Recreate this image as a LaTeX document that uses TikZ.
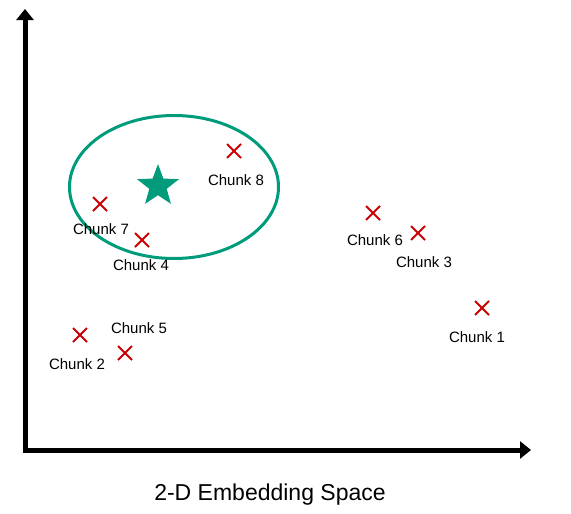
\documentclass[tikz,border=0pt]{standalone}
\usepackage{fontspec}
\setmainfont{Liberation Sans}
\usepackage{tikz}
\usetikzlibrary{positioning,arrows.meta,shapes.geometric,shapes.misc}
\definecolor{teal}{RGB}{0,155,122}
\definecolor{mark}{RGB}{204,0,0}

\begin{document}
\begin{tikzpicture}[
    x=1pt, y=-1pt,
    node distance=16pt,
    axis/.style={line width=5pt, -{Triangle[length=11pt,width=17pt]}},
    chunk/.style={cross out, draw=mark, line width=2pt, minimum size=12pt, inner sep=0pt},
    chunklabel/.style={font=\fontsize{15}{17}\selectfont, inner sep=0pt},
    query/.style={star, star points=5, star point ratio=2.4, fill=teal, minimum size=44pt, inner sep=0pt},
    title/.style={font=\fontsize{23}{27}\selectfont}
]
\useasboundingbox (0,0) rectangle (571,514);

% Axes
\coordinate (origin) at (25,450);
\coordinate (ytop) at (25,9);
\coordinate (xend) at (531,450);
\draw[axis] ([yshift=-2.5pt]origin) -- (ytop);
\draw[axis] ([xshift=-2.5pt]origin) -- (xend);

% Cluster around the query
\node[draw=teal, line width=3pt, ellipse, minimum width=209pt, minimum height=143pt] (cluster) at (174,187) {};
\node[query] (q) at (158,186) {};

% Chunks
\node[chunk] (c1) at (482,308) {};
\node[chunk] (c2) at (80,335) {};
\node[chunk] (c3) at (418,233) {};
\node[chunk] (c4) at (142,240) {};
\node[chunk] (c5) at (125,353) {};
\node[chunk] (c6) at (373,213) {};
\node[chunk] (c7) at (100,204) {};
\node[chunk] (c8) at (234,151) {};

% Labels
\node[chunklabel, below=of c1, xshift=-5pt] (l1) {Chunk 1};
\node[chunklabel, below=of c2, xshift=-3pt] (l2) {Chunk 2};
\node[chunklabel, below=of c3, xshift=6pt] (l3) {Chunk 3};
\node[chunklabel, below=12pt of c4, xshift=-1pt] (l4) {Chunk 4};
\node[chunklabel, above=12pt of c5, xshift=14pt] (l5) {Chunk 5};
\node[chunklabel, below=14pt of c6, xshift=2pt] (l6) {Chunk 6};
\node[chunklabel, below=12pt of c7, xshift=1pt] (l7) {Chunk 7};
\node[chunklabel, below=of c8, xshift=2pt] (l8) {Chunk 8};

% Title
\node[title] (cap) at (270,495) {2-D Embedding Space};

\end{tikzpicture}
\end{document}
